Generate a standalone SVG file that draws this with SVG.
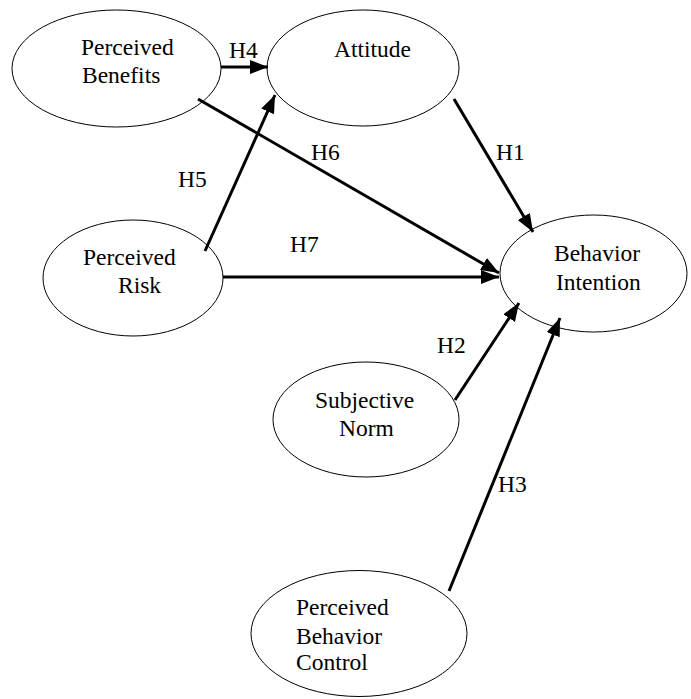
<svg xmlns="http://www.w3.org/2000/svg" width="691" height="699" viewBox="0 0 691 699">
<style>
  .node ellipse { fill: #ffffff; stroke: #000000; stroke-width: 1; }
  text { font-family: "Liberation Serif", "Times New Roman", serif; font-size: 23.5px; fill: #000000; }
  .edge line { stroke: #000000; stroke-width: 3; marker-end: url(#arrow); }
  .edge line.plain { marker-end: none; }
</style>
<defs>
  <marker id="arrow" markerUnits="userSpaceOnUse" markerWidth="18" markerHeight="14" refX="18" refY="7" orient="auto">
    <path d="M0,0 L18,7 L0,14 z" fill="#000000"/>
  </marker>
</defs>
<rect width="691" height="699" fill="#ffffff"/>

<g id="node-benefits" class="node">
  <ellipse cx="116.5" cy="68.5" rx="104.5" ry="58.5"/>
  <text x="81" y="55">Perceived</text>
  <text x="82" y="83">Benefits</text>
</g>
<g id="node-attitude" class="node">
  <ellipse cx="363" cy="68" rx="96" ry="58"/>
  <text x="334" y="57">Attitude</text>
</g>
<g id="node-risk" class="node">
  <ellipse cx="133" cy="278" rx="90" ry="58"/>
  <text x="83" y="265">Perceived</text>
  <text x="118" y="293">Risk</text>
</g>
<g id="node-intention" class="node">
  <ellipse cx="593.5" cy="273.5" rx="93.5" ry="58.5"/>
  <text x="554" y="261">Behavior</text>
  <text x="556" y="290">Intention</text>
</g>
<g id="node-norm" class="node">
  <ellipse cx="366" cy="419.5" rx="93" ry="57.5"/>
  <text x="315" y="408">Subjective</text>
  <text x="339" y="436">Norm</text>
</g>
<g id="node-control" class="node">
  <ellipse cx="359" cy="633.5" rx="108" ry="63"/>
  <text x="296" y="615">Perceived</text>
  <text x="296" y="644">Behavior</text>
  <text x="296" y="670">Control</text>
</g>

<g id="connectors" class="edge">
  <line x1="221" y1="67" x2="268" y2="67"/>
  <line x1="454" y1="99" x2="533" y2="232"/>
  <line x1="198" y1="99" x2="499" y2="273"/>
  <line x1="223" y1="277" x2="499" y2="277"/>
  <line x1="205" y1="251" x2="275" y2="95"/>
  <line x1="455" y1="400" x2="519" y2="303"/>
  <line x1="449" y1="591" x2="560" y2="318"/>
</g>

<g id="labels">
  <text x="229" y="58">H4</text>
  <text x="496" y="160">H1</text>
  <text x="311" y="160">H6</text>
  <text x="178" y="187">H5</text>
  <text x="290" y="252">H7</text>
  <text x="437" y="353">H2</text>
  <text x="498" y="492">H3</text>
</g>
</svg>
